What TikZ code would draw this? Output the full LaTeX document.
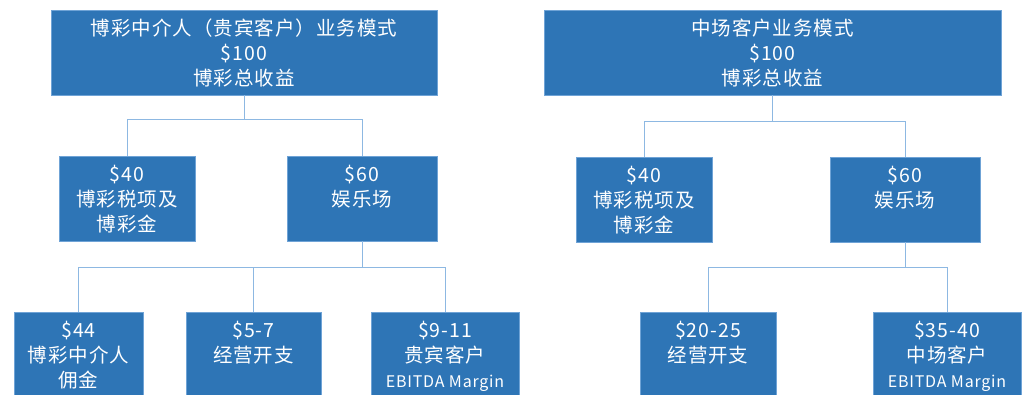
\documentclass[tikz,border=0pt]{standalone}
\usepackage{fontspec}
\setmainfont[LetterSpace=5]{Noto Sans CJK SC}
\definecolor{boxblue}{HTML}{2E75B6}
\definecolor{boxedge}{HTML}{6FA3D6}
\definecolor{connblue}{HTML}{8DB8E2}
\newcommand\ls{\rule[-4.9pt]{0pt}{25pt}}
\newcommand\sm[1]{{\fontsize{16}{25}\selectfont #1}}
\tikzset{
  box/.style={fill=boxblue, draw=boxedge, line width=0.6pt, inner sep=0pt, align=center,
    text=white, font=\fontsize{19.5}{25}\selectfont},
  conn/.style={draw=connblue, line width=1pt},
}
\begin{document}
\begin{tikzpicture}[x=1pt,y=-1pt]
\useasboundingbox (0,0) rectangle (1023,394);
% left tree
\node[box, minimum width=386, minimum height=85] (L0) at (244,52.5) {\ls 博彩中介人（贵宾客户）业务模式\\\ls \$100\\\ls 博彩总收益};
\node[box, minimum width=136, minimum height=85] (L1) at (127,198.5) {\ls \$40\\\ls 博彩税项及\\\ls 博彩金};
\node[box, minimum width=150, minimum height=85] (L2) at (362,198.5) {\ls \$60\\\ls 娱乐场\\\ls};
\node[box, minimum width=129, minimum height=85] (L3) at (78.5,354.5) {\ls \$44\\\ls 博彩中介人\\\ls 佣金};
\node[box, minimum width=135, minimum height=85] (L4) at (253.5,354.5) {\ls \$5-7\\\ls 经营开支\\\ls};
\node[box, minimum width=148, minimum height=85] (L5) at (445,354.5) {\ls \$9-11\\\ls 贵宾客户\\\ls \sm{EBITDA Margin}};
% right tree
\node[box, minimum width=457, minimum height=85] (R0) at (772.5,52.5) {\ls 中场客户业务模式\\\ls \$100\\\ls 博彩总收益};
\node[box, minimum width=136, minimum height=85] (R1) at (644,199.5) {\ls \$40\\\ls 博彩税项及\\\ls 博彩金};
\node[box, minimum width=150, minimum height=85] (R2) at (905,199.5) {\ls \$60\\\ls 娱乐场\\\ls};
\node[box, minimum width=136, minimum height=85] (R3) at (708,354.5) {\ls \$20-25\\\ls 经营开支\\\ls};
\node[box, minimum width=148, minimum height=85] (R4) at (947,354.5) {\ls \$35-40\\\ls 中场客户\\\ls \sm{EBITDA Margin}};
% junctions
\coordinate (LJ1) at (244,119);
\coordinate (LJ2) at (362,267);
\coordinate (RJ1) at (772.5,121);
\coordinate (RJ2) at (905,267);
% connectors
\draw[conn] (L0.south) -- (LJ1) -| (L1.north);
\draw[conn] (LJ1) -| (L2.north);
\draw[conn] (L2.south) -- (LJ2) -| (L3.north);
\draw[conn] (LJ2) -| (L4.north);
\draw[conn] (LJ2) -| (L5.north);
\draw[conn] (R0.south) -- (RJ1) -| (R1.north);
\draw[conn] (RJ1) -| (R2.north);
\draw[conn] (R2.south) -- (RJ2) -| (R3.north);
\draw[conn] (RJ2) -| (R4.north);
\end{tikzpicture}
\end{document}
